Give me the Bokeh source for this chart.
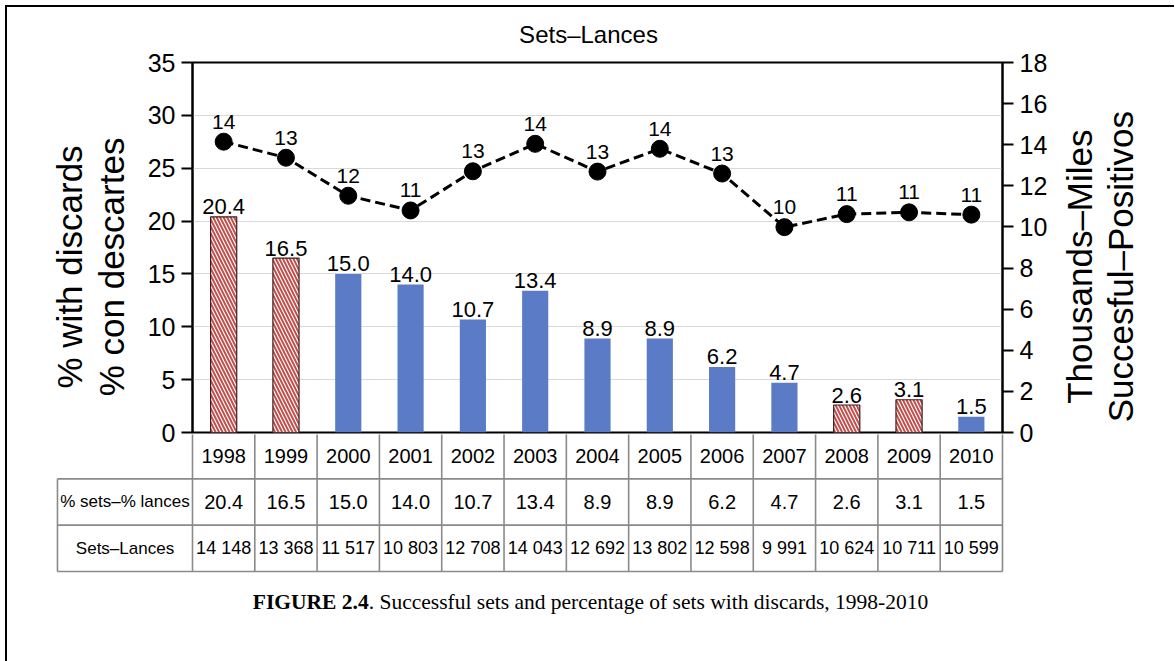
import math
from bokeh.plotting import figure
from bokeh.models import (FactorRange, Range1d, LinearAxis, FixedTicker,
                          ColumnDataSource, Div, CDSView, BooleanFilter, Grid)
from bokeh.layouts import column, row
from bokeh.embed import file_html
from bokeh.resources import INLINE
from bokeh.core.properties import value

# ---------------- data ----------------
years = ["1998", "1999", "2000", "2001", "2002", "2003", "2004",
         "2005", "2006", "2007", "2008", "2009", "2010"]
pct_discards = [20.4, 16.5, 15.0, 14.0, 10.7, 13.4, 8.9, 8.9, 6.2, 4.7, 2.6, 3.1, 1.5]
sets_lances = [14148, 13368, 11517, 10803, 12708, 14043, 12692, 13802,
               12598, 9991, 10624, 10711, 10599]
hatched = [True, True, False, False, False, False, False, False, False, False,
           True, True, False]
chart_title = "Sets\u2013Lances"
row_labels = ["% sets\u2013% lances", "Sets\u2013Lances"]
right_titles = ["Thousands\u2013Miles", "Succesful\u2013Positivos"]
left_ticks = [0, 5, 10, 15, 20, 25, 30, 35]
right_ticks = [0, 2, 4, 6, 8, 10, 12, 14, 16, 18]

FONT = "Liberation Sans"
BLUE = "#5b7bc6"
RED = "#c0504d"
PAD = "\u00a0" * 4   # keeps the rotated axis titles slightly below centre, as in the original

sets_k = [v / 1000 for v in sets_lances]
src = ColumnDataSource(dict(
    year=years,
    pct=pct_discards,
    pct_lbl=[f"{v:.1f}" for v in pct_discards],
    sets_k=sets_k,
    sets_lbl=[str(round(v)) for v in sets_k],
))

W = 1157
STRIP_H = 41        # title strip above the chart
EXTRA_BOTTOM = 14   # room so the "0" tick labels are not cut; the table overlaps it
TOP, BOTTOM = 14, 2 + EXTRA_BOTTOM
P_W, P_H = 1051, 14 + 370 + BOTTOM


def bare(fig):
    fig.center = []
    fig.outline_line_color = None
    fig.background_fill_color = "white"
    fig.border_fill_color = "white"
    try:
        fig.frame_align = False
    except Exception:
        pass


# ---------------- title strip ----------------
ts = figure(width=W, height=STRIP_H, x_range=Range1d(0, W), y_range=Range1d(STRIP_H, 0),
            x_axis_location=None, y_axis_location=None,
            min_border_left=0, min_border_right=0, min_border_top=0, min_border_bottom=0,
            output_backend="svg", toolbar_location=None)
bare(ts)
ts.text(x=[581], y=[27], text=[chart_title], text_align="center",
        text_baseline="alphabetic", text_font=value(FONT), text_font_size="24px",
        text_color="black")

# ---------------- main chart ----------------
p = figure(width=P_W, height=P_H,
           x_range=FactorRange(*years, range_padding=0),
           y_range=Range1d(0, 35),
           x_axis_location=None, y_axis_location=None,
           min_border_left=185, min_border_right=P_W - 185 - 810,
           min_border_top=TOP, min_border_bottom=BOTTOM,
           output_backend="svg", toolbar_location=None)
bare(p)
p.extra_y_ranges = {"sets": Range1d(0, 18)}
p.outline_line_color = "black"
p.outline_line_width = 2
p.outline_line_alpha = 1

p.add_layout(Grid(dimension=1, ticker=FixedTicker(ticks=left_ticks),
                  grid_line_color="#d9d9d9", grid_line_width=1.2))


def style_axis(ax, label_size="35px"):
    ax.major_tick_out = 11
    ax.major_tick_in = 0
    ax.minor_tick_out = 0
    ax.minor_tick_in = 0
    ax.major_tick_line_width = 2
    ax.axis_line_width = 2
    ax.major_label_text_font = FONT
    ax.major_label_text_font_size = "25px"
    ax.major_label_text_color = "black"
    ax.major_label_standoff = 6
    ax.axis_label_text_font = FONT
    ax.axis_label_text_font_size = label_size
    ax.axis_label_text_font_style = "normal"
    ax.axis_label_text_color = "black"


ax_l = LinearAxis(ticker=FixedTicker(ticks=left_ticks),
                  axis_label="% con descartes" + PAD)
style_axis(ax_l)
ax_l.axis_label_standoff = 14
p.add_layout(ax_l, "left")
ax_l2 = LinearAxis(ticker=FixedTicker(ticks=[]), axis_label="% with discards" + PAD)
style_axis(ax_l2)
ax_l2.axis_line_color = None
ax_l2.major_tick_out = 0
ax_l2.axis_label_standoff = 0
p.add_layout(ax_l2, "left")

ax_r = LinearAxis(y_range_name="sets", ticker=FixedTicker(ticks=right_ticks))
style_axis(ax_r)
p.add_layout(ax_r, "right")

solid_view = CDSView(filter=BooleanFilter([not h for h in hatched]))
hatch_view = CDSView(filter=BooleanFilter(hatched))

p.vbar(x="year", top="pct", width=0.42, source=src, view=solid_view,
       fill_color=BLUE, line_color=None)
p.vbar(x="year", top="pct", width=0.42, source=src, view=hatch_view,
       fill_color="white", line_color="#3b2020", line_width=1.2,
       hatch_pattern="left_diagonal_line", hatch_color=RED,
       hatch_scale=7, hatch_weight=2)

p.text(x="year", y="pct", text="pct_lbl", source=src,
       text_align="center", text_baseline="alphabetic", y_offset=-10,
       text_font=value(FONT), text_font_size="22px", text_color="black")

p.line(x="year", y="sets_k", source=src, y_range_name="sets",
       line_color="black", line_width=3, line_dash="10 5")
p.scatter(x="year", y="sets_k", source=src, y_range_name="sets",
          size=17, fill_color="black", line_color="black")
p.text(x="year", y="sets_k", text="sets_lbl", source=src, y_range_name="sets",
       text_align="center", text_baseline="alphabetic", y_offset=-20,
       text_font=value(FONT), text_font_size="21px", text_color="black")

# ---------------- right-hand axis titles (read bottom-to-top) ----------------
S_W = W - P_W
px_per_unit = 370 / 18.0
side = figure(width=S_W, height=P_H,
              x_range=Range1d(0, S_W),
              y_range=Range1d(-BOTTOM / px_per_unit, 18 + TOP / px_per_unit),
              x_axis_location=None, y_axis_location=None,
              min_border_left=0, min_border_right=0, min_border_top=0, min_border_bottom=0,
              output_backend="svg", toolbar_location=None)
bare(side)
side.text(x=[21, 62], y=[8.07, 8.07], text=right_titles, angle=math.pi / 2,
          text_align="center", text_baseline="alphabetic",
          text_font=value(FONT), text_font_size="35px", text_color="black")

# ---------------- table ----------------
n = len(years)
label_w = 2.167
t = figure(width=W, height=140,
           x_range=Range1d(-2.969, 15.600), y_range=Range1d(3.065, 0.043),
           x_axis_location=None, y_axis_location=None,
           min_border_left=0, min_border_right=0, min_border_top=0, min_border_bottom=0,
           output_backend="svg", toolbar_location=None,
           styles={"margin-top": f"-{EXTRA_BOTTOM}px"})
bare(t)
t.background_fill_alpha = 0
t.border_fill_alpha = 0

GRAY = "#8a8a8a"
t.segment(x0=[-label_w] * 3, x1=[n] * 3, y0=[1, 2, 3], y1=[1, 2, 3],
          line_color=GRAY, line_width=1.6)
t.segment(x0=list(range(n + 1)), x1=list(range(n + 1)),
          y0=[0] * (n + 1), y1=[3] * (n + 1), line_color=GRAY, line_width=1.6)
t.segment(x0=[-label_w], x1=[-label_w], y0=[1], y1=[3], line_color=GRAY, line_width=1.6)

xs = [i + 0.5 for i in range(n)]
t.text(x=xs, y=[0.5] * n, text=years, text_align="center", text_baseline="middle",
       text_font=value(FONT), text_font_size="20px", text_color="black")
t.text(x=xs, y=[1.5] * n, text=[f"{v:.1f}" for v in pct_discards],
       text_align="center", text_baseline="middle",
       text_font=value(FONT), text_font_size="20px", text_color="black")
t.text(x=xs, y=[2.5] * n, text=[f"{v:,}".replace(",", " ") for v in sets_lances],
       text_align="center", text_baseline="middle",
       text_font=value(FONT), text_font_size="18px", text_color="black")
t.text(x=[-label_w / 2] * 2, y=[1.5, 2.5], text=row_labels,
       text_align="center", text_baseline="middle",
       text_font=value(FONT), text_font_size="17px", text_color="black")

# ---------------- caption ----------------
cap = Div(text='<div style="width:1157px;padding-top:8px;text-align:center;'
               'font-family:\'Liberation Serif\',\'Times New Roman\',serif;'
               'font-size:21.5px;color:black;">'
               '<b>FIGURE 2.4</b>. Successful sets and percentage of sets with discards, 1998-2010'
               '</div>',
          width=W, height=78)

layout = column(ts, row(p, side), t, cap,
                styles={"border-top": "2px solid black",
                        "border-left": "2px solid black",
                        "margin-left": "5px", "margin-top": "5px",
                        "background-color": "white"})

with open("out.html", "w") as f:
    f.write(file_html(layout, INLINE))
